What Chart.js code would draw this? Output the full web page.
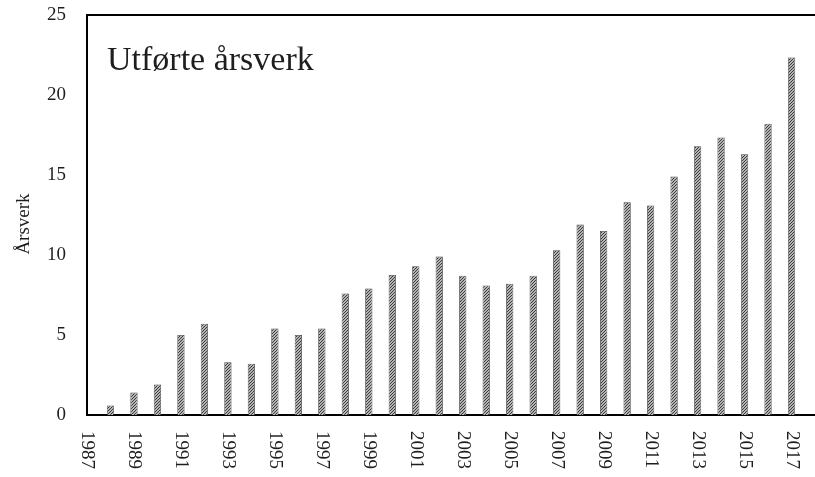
<!DOCTYPE html>
<html>
<head>
<meta charset="utf-8">
<script src="https://cdn.jsdelivr.net/npm/chart.js@4"></script>
<style>
  html, body { margin: 0; padding: 0; background: #fff; }
  #wrap { width: 815px; height: 477px; }
</style>
</head>
<body>
<div id="wrap"><canvas id="graph" width="815" height="477"></canvas></div>
<script>
"use strict";

const years = [
  1987, 1988, 1989, 1990, 1991, 1992, 1993, 1994, 1995, 1996, 1997,
  1998, 1999, 2000, 2001, 2002, 2003, 2004, 2005, 2006, 2007, 2008,
  2009, 2010, 2011, 2012, 2013, 2014, 2015, 2016, 2017,
];
const arsverk = [
  0, 0.6, 1.4, 1.9, 5.0, 5.7, 3.3, 3.2, 5.4, 5.0, 5.4,
  7.6, 7.9, 8.75, 9.3, 9.9, 8.7, 8.1, 8.2, 8.7, 10.3, 11.9,
  11.5, 13.3, 13.1, 14.9, 16.8, 17.35, 16.3, 18.2, 22.35,
];
const yearTicks = [
  1987, 1989, 1991, 1993, 1995, 1997, 1999, 2001,
  2003, 2005, 2007, 2009, 2011, 2013, 2015, 2017,
];
const chartTitle = "Utførte årsverk";
const yTitle = "Årsverk";

document.addEventListener("DOMContentLoaded", () => {
  const serif = "'Liberation Serif', 'Times New Roman', serif";
  const textColor = "#1e1e1e";

  // fine diagonal hatch like the scanned bars
  function hatch() {
    const c = document.createElement("canvas");
    c.width = 3;
    c.height = 3;
    const g = c.getContext("2d");
    g.fillStyle = "#b4b4b4";
    g.fillRect(0, 0, 3, 3);
    g.fillStyle = "#3c3c3c";
    g.fillRect(0, 2, 1, 1);
    g.fillRect(1, 1, 1, 1);
    g.fillRect(2, 0, 1, 1);
    return g.createPattern(c, "repeat");
  }

  const extras = {
    id: "extras",
    afterDraw(chart) {
      const { ctx, chartArea, scales } = chart;
      ctx.save();
      // top frame line
      ctx.strokeStyle = "#000";
      ctx.lineWidth = 2;
      ctx.beginPath();
      ctx.moveTo(chartArea.left, chartArea.top);
      ctx.lineTo(chartArea.right, chartArea.top);
      ctx.stroke();

      // title inside plot
      ctx.fillStyle = textColor;
      ctx.font = "34px " + serif;
      ctx.textAlign = "left";
      ctx.textBaseline = "alphabetic";
      ctx.fillText(chartTitle, 107, 70);

      // y axis title
      ctx.save();
      ctx.translate(24, 224);
      ctx.rotate(-Math.PI / 2);
      ctx.font = "19px " + serif;
      ctx.textAlign = "center";
      ctx.textBaseline = "middle";
      ctx.fillText(yTitle, 0, 0);
      ctx.restore();

      // x tick labels, rotated clockwise
      ctx.font = "19px " + serif;
      ctx.textAlign = "left";
      ctx.textBaseline = "middle";
      yearTicks.forEach((yr) => {
        const x = scales.x.getPixelForValue(yr);
        ctx.save();
        ctx.translate(x, chartArea.bottom + 16);
        ctx.rotate(Math.PI / 2);
        ctx.fillText(String(yr), 0, 0);
        ctx.restore();
      });
      ctx.restore();
    },
  };

  const ctx = document.getElementById("graph").getContext("2d");
  new Chart(ctx, {
    type: "bar",
    data: {
      datasets: [
        {
          label: yTitle,
          data: years.map((yr, i) => ({ x: yr, y: arsverk[i] })),
          backgroundColor: hatch(),
          borderColor: "#444",
          borderWidth: 0.8,
          barPercentage: 0.31,
          categoryPercentage: 1,
        },
      ],
    },
    options: {
      responsive: false,
      animation: false,
      layout: { padding: { top: 15, right: 0, left: 0, bottom: 0 } },
      plugins: {
        legend: { display: false },
        tooltip: { enabled: false },
      },
      scales: {
        x: {
          type: "linear",
          min: 1987,
          max: 2018,
          offset: false,
          grid: { display: false, drawTicks: false },
          border: { display: true, color: "#000", width: 2 },
          ticks: { display: false },
          afterFit: (s) => {
            s.height = 62;
            s.paddingLeft = 0;
            s.paddingRight = 0;
          },
        },
        y: {
          min: 0,
          max: 25,
          grid: { display: false, drawTicks: false },
          border: { display: true, color: "#000", width: 2 },
          ticks: {
            stepSize: 5,
            padding: 21,
            color: textColor,
            font: { family: serif, size: 19 },
          },
          afterFit: (s) => {
            s.width = 87;
            s.paddingTop = 0;
            s.paddingBottom = 0;
          },
        },
      },
    },
    plugins: [extras],
  });
});
</script>
</body>
</html>
